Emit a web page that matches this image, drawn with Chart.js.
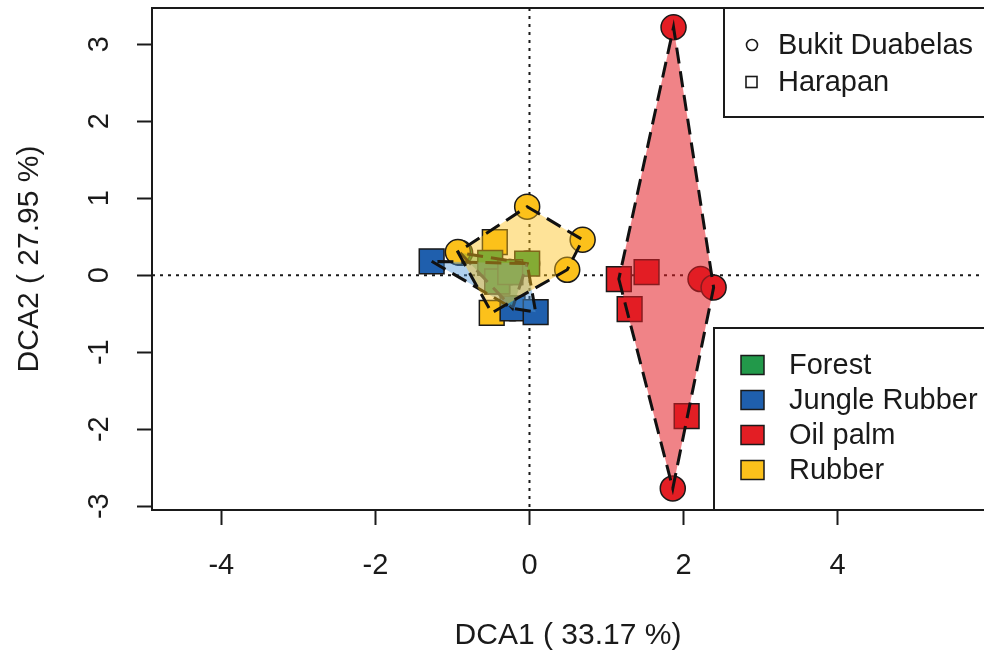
<!DOCTYPE html>
<html><head><meta charset="utf-8">
<script src="https://cdn.jsdelivr.net/npm/chart.js@4.4.1/dist/chart.umd.min.js"></script>
<style>html,body{margin:0;padding:0;background:#fff;overflow:hidden}#wrap{width:984px;height:657px;position:relative}</style>
</head><body><div id="wrap"><canvas id="c" width="984" height="657"></canvas></div>
<script>
// ---- data ----
const landUses = ['Forest', 'Jungle Rubber', 'Oil palm', 'Rubber'];
const sites = ['Bukit Duabelas', 'Harapan'];
const xTicks = [-4, -2, 0, 2, 4];
const yTicks = [-3, -2, -1, 0, 1, 2, 3];
const xTitle = 'DCA1 ( 33.17 %)';
const yTitle = 'DCA2 ( 27.95 %)';

const forestBukitX = [-0.90, -0.22, -0.50, -0.26];
const forestBukitY = [0.29, -0.43, 0.15, 0.04];
const forestHarapanX = [-0.03, -0.51, -0.42, -0.25];
const forestHarapanY = [0.15, 0.16, -0.08, 0.04];

const jungleBukitX = [-0.03, -0.42, -0.51, -0.25];
const jungleBukitY = [0.15, -0.08, 0.16, 0.04];
const jungleHarapanX = [-1.27, -0.22, 0.08, -0.42];
const jungleHarapanY = [0.18, -0.43, -0.48, -0.08];

const oilBukitX = [1.87, 1.86, 2.22, 2.39];
const oilBukitY = [3.22, -2.77, -0.05, -0.16];
const oilHarapanX = [1.16, 1.52, 1.30, 2.04];
const oilHarapanY = [-0.05, 0.04, -0.44, -1.83];

const rubberBukitX = [-0.03, 0.69, 0.49, -0.93];
const rubberBukitY = [0.89, 0.46, 0.07, 0.30];
const rubberHarapanX = [-0.45, -0.49, -0.42, -0.25];
const rubberHarapanY = [0.43, -0.49, -0.08, 0.04];

// ---- styling ----
const FONT = "'Liberation Sans', Arial, sans-serif";
const colors = {
  'Forest': '#22994a', 'Jungle Rubber': '#1f5fad', 'Oil palm': '#e31e24', 'Rubber': '#fcc11b'
};
const hullFill = {
  'Forest': 'rgba(34,153,74,0.45)', 'Jungle Rubber': 'rgba(80,150,215,0.45)',
  'Oil palm': 'rgba(227,30,36,0.55)', 'Rubber': 'rgba(252,193,27,0.45)'
};

const pts = (xs, ys) => xs.map((x, i) => ({ x: x, y: ys[i] }));
const groups = {
  'Forest': [pts(forestBukitX, forestBukitY), pts(forestHarapanX, forestHarapanY)],
  'Jungle Rubber': [pts(jungleBukitX, jungleBukitY), pts(jungleHarapanX, jungleHarapanY)],
  'Oil palm': [pts(oilBukitX, oilBukitY), pts(oilHarapanX, oilHarapanY)],
  'Rubber': [pts(rubberBukitX, rubberBukitY), pts(rubberHarapanX, rubberHarapanY)]
};

// painting order of point layers, bottom to top: [land use, site index]
const layerOrder = [
  ['Jungle Rubber', 0], ['Forest', 0], ['Rubber', 1], ['Jungle Rubber', 1],
  ['Forest', 1], ['Oil palm', 0], ['Oil palm', 1], ['Rubber', 0]
];
// Chart.js paints the first dataset on top, so reverse the list
const datasets = layerOrder.slice().reverse().map(([g, si]) => ({
  label: g + ' - ' + sites[si],
  data: groups[g][si],
  pointStyle: si === 0 ? 'circle' : 'rect',
  pointRadius: si === 0 ? 12.5 : 17.5,
  pointHoverRadius: si === 0 ? 12.5 : 17.5,
  backgroundColor: colors[g],
  borderColor: '#1a1a1a',
  borderWidth: 1.5,
  showLine: false
}));

function hull(points) {
  const p = points.slice().sort((a, b) => a.x - b.x || a.y - b.y);
  const cross = (o, a, b) => (a.x - o.x) * (b.y - o.y) - (a.y - o.y) * (b.x - o.x);
  const lower = [], upper = [];
  for (const q of p) { while (lower.length >= 2 && cross(lower[lower.length - 2], lower[lower.length - 1], q) <= 0) lower.pop(); lower.push(q); }
  for (let i = p.length - 1; i >= 0; i--) { const q = p[i]; while (upper.length >= 2 && cross(upper[upper.length - 2], upper[upper.length - 1], q) <= 0) upper.pop(); upper.push(q); }
  upper.pop(); lower.pop();
  return lower.concat(upper);
}

function openBox(ctx, l, t, r, b) {
  ctx.beginPath();
  ctx.moveTo(r + 2, t); ctx.lineTo(l, t); ctx.lineTo(l, b); ctx.lineTo(r + 2, b);
  ctx.stroke();
}

const decor = {
  id: 'decor',
  beforeDatasetsDraw(chart) {
    const { ctx, chartArea: a, scales: { x, y } } = chart;
    ctx.save();
    ctx.strokeStyle = '#1a1a1a';
    ctx.lineWidth = 2;
    ctx.setLineDash([3, 5]);
    const x0 = x.getPixelForValue(0), y0 = y.getPixelForValue(0);
    ctx.beginPath();
    ctx.moveTo(x0, a.top); ctx.lineTo(x0, a.bottom);
    ctx.moveTo(a.left, y0); ctx.lineTo(a.right, y0);
    ctx.stroke();
    ctx.restore();
  },
  afterDatasetsDraw(chart) {
    const { ctx, chartArea: a, scales: { x, y } } = chart;
    ctx.save();
    ctx.beginPath(); ctx.rect(a.left, a.top, a.right - a.left, a.bottom - a.top); ctx.clip();
    landUses.forEach(g => {
      const h = hull(groups[g][0].concat(groups[g][1]));
      ctx.beginPath();
      h.forEach((p, i) => {
        const px = x.getPixelForValue(p.x), py = y.getPixelForValue(p.y);
        if (i === 0) ctx.moveTo(px, py); else ctx.lineTo(px, py);
      });
      ctx.closePath();
      ctx.fillStyle = hullFill[g];
      ctx.fill();
      ctx.setLineDash([16, 8]);
      ctx.lineWidth = 3;
      ctx.strokeStyle = '#111';
      ctx.stroke();
    });
    ctx.restore();
  },
  afterDraw(chart) {
    const { ctx, chartArea: a } = chart;
    ctx.save();
    ctx.setLineDash([]);
    ctx.strokeStyle = '#1a1a1a';
    ctx.lineWidth = 2;
    openBox(ctx, a.left, a.top, a.right, a.bottom);

    // legend 1 (sites)
    const l1x = 724, l1b = 117;
    ctx.fillStyle = '#fff';
    ctx.fillRect(l1x, a.top, a.right - l1x, l1b - a.top);
    openBox(ctx, l1x, a.top, a.right, l1b);
    ctx.font = '29px ' + FONT;
    ctx.textBaseline = 'middle';
    ctx.textAlign = 'left';
    ctx.lineWidth = 1.6;
    const rows1 = [45, 82];
    ctx.beginPath(); ctx.arc(752, rows1[0], 5.5, 0, Math.PI * 2); ctx.stroke();
    ctx.strokeRect(746, rows1[1] - 5.5, 11, 11);
    ctx.fillStyle = '#1a1a1a';
    sites.forEach((s, i) => ctx.fillText(s, 778, rows1[i] + 1));

    // legend 2 (land uses)
    const l2x = 714, l2t = 328;
    ctx.lineWidth = 2;
    ctx.fillStyle = '#fff';
    ctx.fillRect(l2x, l2t, a.right - l2x, a.bottom - l2t);
    openBox(ctx, l2x, l2t, a.right, a.bottom);
    const rows2 = [365, 400, 435, 470];
    landUses.forEach((g, i) => {
      ctx.fillStyle = colors[g];
      ctx.fillRect(741, rows2[i] - 9.5, 23, 19);
      ctx.lineWidth = 1.5;
      ctx.strokeRect(741, rows2[i] - 9.5, 23, 19);
      ctx.fillStyle = '#1a1a1a';
      ctx.fillText(g, 789, rows2[i] + 1);
    });
    ctx.restore();
  }
};

const zeroPad = s => { s.paddingLeft = 0; s.paddingRight = 0; s.paddingTop = 0; s.paddingBottom = 0; };

new Chart(document.getElementById('c'), {
  type: 'scatter',
  data: { datasets: datasets },
  options: {
    responsive: false,
    animation: false,
    devicePixelRatio: 1,
    layout: { autoPadding: false, padding: { left: 0, top: 8, right: 0, bottom: 0 } },
    plugins: { legend: { display: false }, tooltip: { enabled: false } },
    scales: {
      x: {
        type: 'linear', min: -4.9, max: 5.9,
        afterBuildTicks: s => { s.ticks = xTicks.map(v => ({ value: v })); },
        afterFit: s => { s.height = 147; zeroPad(s); },
        border: { display: false },
        grid: { drawOnChartArea: false, drawTicks: true, tickLength: 15, tickWidth: 2, tickColor: '#1a1a1a' },
        ticks: { font: { size: 29, family: FONT }, color: '#1a1a1a', padding: 24, maxRotation: 0, minRotation: 0 },
        title: { display: true, text: xTitle, font: { size: 30, family: FONT }, color: '#1a1a1a', padding: { top: 0, bottom: 3 } }
      },
      y: {
        type: 'linear', min: -3.05, max: 3.47,
        afterBuildTicks: s => { s.ticks = yTicks.map(v => ({ value: v })); },
        afterFit: s => { s.width = 152; zeroPad(s); },
        border: { display: false },
        grid: { drawOnChartArea: false, drawTicks: true, tickLength: 15, tickWidth: 2, tickColor: '#1a1a1a' },
        ticks: { font: { size: 29, family: FONT }, color: '#1a1a1a', padding: 24, minRotation: 90, maxRotation: 90, crossAlign: 'center' },
        title: { display: true, text: yTitle, font: { size: 30, family: FONT }, color: '#1a1a1a', padding: { top: 12, bottom: 0 } }
      }
    }
  },
  plugins: [decor]
});
</script>
</body></html>
